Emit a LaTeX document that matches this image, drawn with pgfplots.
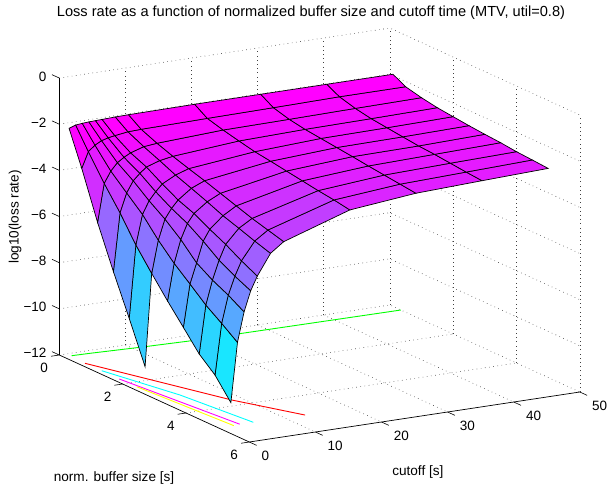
\documentclass[border=0pt]{standalone}
\usepackage{fontspec}
\setmainfont{Liberation Sans}
\usepackage{pgfplots}
\pgfplotsset{compat=1.18}
\definecolor{gridc}{gray}{0.25}
\definecolor{pcyan}{rgb}{0,1,1}
\definecolor{pmagenta}{rgb}{1,0,1}
\definecolor{pyellow}{rgb}{1,1,0}
\definecolor{pgreen}{rgb}{0,1,0}
\definecolor{pred}{rgb}{1,0,0}

\begin{document}
\begin{tikzpicture}
\begin{axis}[
    x={(6.61pt,1pt)},
    y={(31.67pt,-14.5pt)},
    z={(0pt,23.08pt)},
    xmin=0, xmax=50,
    ymin=0, ymax=6,
    zmin=-12, zmax=0,
    xtick={0,10,...,50},
    ytick={0,2,4,6},
    ztick={-12,-10,...,0},
    zticklabels={−12,−10,−8,−6,−4,−2,0},
    /pgf/number format/assume math mode=true,
    tick label style={font=\fontsize{13.5}{15}\selectfont},
    xticklabel style={anchor=north west,xshift=1.5pt,yshift=-2pt},
    yticklabel style={yshift=-3pt},
    zticklabel style={xshift=-2pt,yshift=-3pt},
    title={Loss rate as a function of normalized buffer size and cutoff time (MTV, util=0.8)},
    every axis title/.style={at={(axis cs:38.08,0,1.18)},anchor=center,font=\fontsize{14.6}{16}\selectfont},
    xlabel={cutoff [s]},
    ylabel={norm. buffer size [s]},
    zlabel={log10(loss rate)},
    every axis x label/.style={at={(axis cs:11.6,8.9,-12)},anchor=center,font=\fontsize{13.6}{15}\selectfont},
    every axis y label/.style={at={(axis cs:-24.4,6.82,-12)},anchor=center,font=\fontsize{13.6}{15}\selectfont},
    every axis z label/.style={at={(axis cs:-6.7,0,-5.73)},anchor=center,rotate=90,font=\fontsize{13.6}{15}\selectfont},
    axis line style={draw=none},
    tick align=outside,
    major tick length=8pt,
    tick style={draw=none},
    clip=false,
    colormap={cool}{rgb=(0,1,1) rgb=(1,0,1)},
    griddots/.style={gridc,line width=0.6pt,dash pattern=on 0.6pt off 3.6pt,unbounded coords=jump},
]
% grid on the back walls and the floor
\addplot3[griddots] coordinates {
(10,0,-12) (10,0,0) (10,0,nan) (20,0,-12) (20,0,0) (20,0,nan)
(30,0,-12) (30,0,0) (30,0,nan) (40,0,-12) (40,0,0) (40,0,nan)
(50,0,-12) (50,0,0) (50,0,nan) (50,2,-12) (50,2,0) (50,2,nan)
(50,4,-12) (50,4,0) (50,4,nan) (50,6,-12) (50,6,0)
};
\addplot3[griddots] coordinates {
(0,0,-10) (50,0,-10) (50,6,-10) (50,6,nan) (0,0,-8) (50,0,-8) (50,6,-8) (50,6,nan)
(0,0,-6) (50,0,-6) (50,6,-6) (50,6,nan) (0,0,-4) (50,0,-4) (50,6,-4) (50,6,nan)
(0,0,-2) (50,0,-2) (50,6,-2) (50,6,nan) (0,0,0) (50,0,0) (50,6,0) (50,6,nan)
(0,0,-12) (50,0,-12) (50,6,-12)
};
\addplot3[griddots] coordinates {
(10,0,-12) (10,6,-12) (10,6,nan) (20,0,-12) (20,6,-12) (20,6,nan)
(30,0,-12) (30,6,-12) (30,6,nan) (40,0,-12) (40,6,-12) (40,6,nan)
(0,2,-12) (50,2,-12) (50,2,nan) (0,4,-12) (50,4,-12)
};
% floor contours
\addplot3[pgreen,line width=0.9pt] coordinates {(1.24,.133,-12) (3.9,.153,-12) (11.1,.234,-12) (18.6,.297,-12) (50,.347,-12)};
\addplot3[pred,line width=0.9pt] coordinates {(.86,.632,-12) (8.43,3.685,-12) (13.04,5.04,-12)};
\addplot3[pcyan,line width=0.9pt] coordinates {(.92,1.147,-12) (3.79,3.02,-12) (5.35,5.01,-12)};
\addplot3[pmagenta,line width=0.9pt] coordinates {(.86,1.715,-12) (3.33,5,-12)};
\addplot3[pyellow,line width=0.9pt] coordinates {(.93,2.25,-12) (2.3,5.03,-12)};
% axis lines and ticks
\addplot3[black,line width=0.7pt] coordinates {(0,0,-12) (0,0,0)};
\addplot3[black,line width=0.7pt] coordinates {(0,0,-12) (0,6,-12)};
\addplot3[black,line width=0.7pt] coordinates {(0,6,-12) (50,6,-12)};
\addplot3[black,line width=0.6pt,unbounded coords=jump] coordinates {
(0,0,-12) (0,-.23,-12) (0,0,nan) (0,0,-10) (0,-.23,-10) (0,0,nan)
(0,0,-8) (0,-.23,-8) (0,0,nan) (0,0,-6) (0,-.23,-6) (0,0,nan)
(0,0,-4) (0,-.23,-4) (0,0,nan) (0,0,-2) (0,-.23,-2) (0,0,nan)
(0,0,0) (0,-.23,0) (0,0,nan)
(0,0,-12) (-1.25,0,-12) (0,0,nan) (0,2,-12) (-1.25,2,-12) (0,0,nan)
(0,4,-12) (-1.25,4,-12) (0,0,nan) (0,6,-12) (-1.25,6,-12) (0,0,nan)
(0,6,-12) (0,6.23,-12) (0,0,nan) (10,6,-12) (10,6.23,-12) (0,0,nan)
(20,6,-12) (20,6.23,-12) (0,0,nan) (30,6,-12) (30,6.23,-12) (0,0,nan)
(40,6,-12) (40,6.23,-12) (0,0,nan) (50,6,-12) (50,6.23,-12)
};
% surface, rows of constant buffer size
\addplot3[surf,shader=flat corner,draw=black,line width=0.7pt,unbounded coords=jump] table {
1 0.1 -2.16
2 0.1 -2.06
3 0.1 -2.03
4 0.1 -2.01
5 0.1 -2.00
6 0.1 -1.99
8 0.1 -1.97
10 0.1 -1.96
20 0.1 -1.94
30 0.1 -1.94
40 0.1 -1.94
50 0.1 -1.94

1 0.5 -3.64
2 0.5 -2.96
3 0.5 -2.72
4 0.5 -2.57
5 0.5 -2.49
6 0.5 -2.44
8 0.5 -2.36
10 0.5 -2.34
20 0.5 -2.30
30 0.5 -2.27
40 0.5 -2.23
50 0.5 -2.23

1 1 -5.67
2 1 -4.02
3 1 -3.53
4 1 -3.21
5 1 -3.02
6 1 -2.87
8 1 -2.69
10 1 -2.63
20 1 -2.49
30 1 -2.46
40 1 -2.42
50 1 -2.39

1 1.5 -7.49
2 1.5 -4.98
3 1.5 -4.16
4 1.5 -3.68
5 1.5 -3.40
6 1.5 -3.17
8 1.5 -2.98
10 1.5 -2.88
20 1.5 -2.65
30 1.5 -2.58
40 1.5 -2.55
50 1.5 -2.51

1 2 -9.20
2 2 -6.06
3 2 -4.78
4 2 -4.23
5 2 -3.88
6 2 -3.59
8 2 -3.29
10 2 -3.10
20 2 -2.80
30 2 -2.66
40 2 -2.63
50 2 -2.585

1 2.5 -10.98
2 2.5 -6.98
3 2.5 -5.58
4 2.5 -4.71
5 2.5 -4.29
6 2.5 -3.97
8 2.5 -3.55
10 2.5 -3.31
20 2.5 -2.90
30 2.5 -2.74
40 2.5 -2.71
50 2.5 -2.66

1 3 nan
2 3 -7.86
3 3 -6.27
4 3 -5.28
5 3 -4.63
6 3 -4.24
8 3 -3.82
10 3 -3.54
20 3 -3.01
30 3 -2.82
40 3 -2.79
50 3 -2.72

1 3.5 nan
2 3.5 -8.69
3 3.5 -6.85
4 3.5 -5.98
5 3.5 -5.08
6 3.5 -4.61
8 3.5 -4.11
10 3.5 -3.77
20 3.5 -3.12
30 3.5 -2.91
40 3.5 -2.84
50 3.5 -2.77

1 4 nan
2 4 -9.53
3 4 -7.45
4 4 -6.41
5 4 -5.59
6 4 -4.95
8 4 -4.34
10 4 -4.00
20 4 -3.23
30 4 -2.99
40 4 -2.91
50 4 -2.845

1 4.5 nan
2 4.5 -10.13
3 4.5 -7.93
4 4.5 -6.75
5 4.5 -5.97
6 4.5 -5.35
8 4.5 -4.58
10 4.5 -4.19
20 4.5 -3.32
30 4.5 -3.07
40 4.5 -2.98
50 4.5 -2.89

1 5 nan
2 5 -11.01
3 5 -8.44
4 5 -7.16
5 5 -6.29
6 5 -5.70
8 5 -4.80
10 5 -4.38
20 5 -3.44
30 5 -3.15
40 5 -3.04
50 5 -2.94
};
\coordinate (A) at (axis cs:0,0,-12);
\end{axis}
\pgfresetboundingbox
\path[use as bounding box] ([shift={(-59.3pt,-130pt)}]A) rectangle ([shift={(548.7pt,355pt)}]A);
\end{tikzpicture}
\end{document}
